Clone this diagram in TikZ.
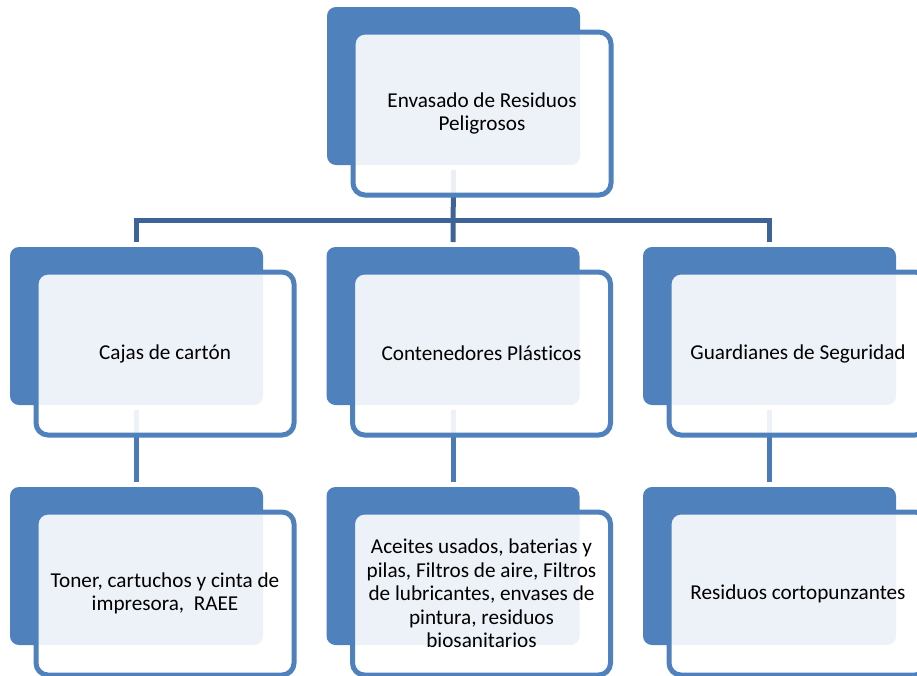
\documentclass[tikz,border=0pt]{standalone}
\usepackage{fontspec}
\setmainfont[Ligatures=NoCommon]{Carlito}
\usetikzlibrary{backgrounds}

\definecolor{boxblue}{HTML}{4F81BD}
\definecolor{linkdark}{HTML}{3E6497}
\definecolor{linklight}{HTML}{4A7BB8}

\tikzset{
	backbox/.style={fill=boxblue, rounded corners=9pt, minimum width=253pt, minimum height=158pt, inner sep=0, outer sep=0, anchor=north west},
	frontbox/.style={draw=boxblue, line width=5pt, fill=white, fill opacity=0.9, text opacity=1, rounded corners=12pt, minimum width=258pt, minimum height=163pt, inner sep=0, outer sep=0, anchor=north west, align=center, font=\fontsize{21.2}{23.5}\selectfont},
	linkA/.style={line width=5pt, draw=linkdark},
	linkB/.style={line width=5pt, draw=linklight},
}

\begin{document}
\begin{tikzpicture}[x=1pt, y=-1pt]
	\useasboundingbox (0,0) rectangle (917,675);

	% nivel 1
	\node[backbox] (envase-b) at (327,7) {};
	\node[frontbox] (envase) at (353,32) {Envasado de Residuos\\Peligrosos};

	% nivel 2
	\foreach \i/\name/\txt in {0/cajas/{Cajas de cartón}, 1/plasticos/{Contenedores Plásticos}, 2/guardianes/{Guardianes de Seguridad}}{
		\node[backbox] (\name-b) at (10+316.5*\i, 247) {};
		\node[frontbox] (\name) at (36+316.5*\i, 272) {\txt};
	}

	% nivel 3
	\foreach \i/\name/\txt in {0/toner/{Toner, cartuchos y cinta de\\impresora,\ \ RAEE}, 1/aceites/{Aceites usados, baterias y\\pilas, Filtros de aire, Filtros\\de lubricantes, envases de\\pintura, residuos\\biosanitarios}, 2/corto/{Residuos cortopunzantes}}{
		\node[backbox] (\name-b) at (10+316.5*\i, 487) {};
		\node[frontbox] (\name) at (36+316.5*\i, 512) {\txt};
	}

	\begin{scope}[on background layer]
		\draw[linkA] ([yshift=-5pt]envase-b.south) -- ([yshift=5pt]plasticos-b.north);
		\draw[linkA] ([yshift=5pt]cajas-b.north) |- ([yshift=27pt]guardianes-b.north) -- ([yshift=5pt]guardianes-b.north);
		\draw[linkB] ([yshift=-5pt]cajas-b.south) -- ([yshift=5pt]toner-b.north);
		\draw[linkB] ([yshift=-5pt]plasticos-b.south) -- ([yshift=5pt]aceites-b.north);
		\draw[linkB] ([yshift=-5pt]guardianes-b.south) -- ([yshift=5pt]corto-b.north);
	\end{scope}
\end{tikzpicture}
\end{document}
